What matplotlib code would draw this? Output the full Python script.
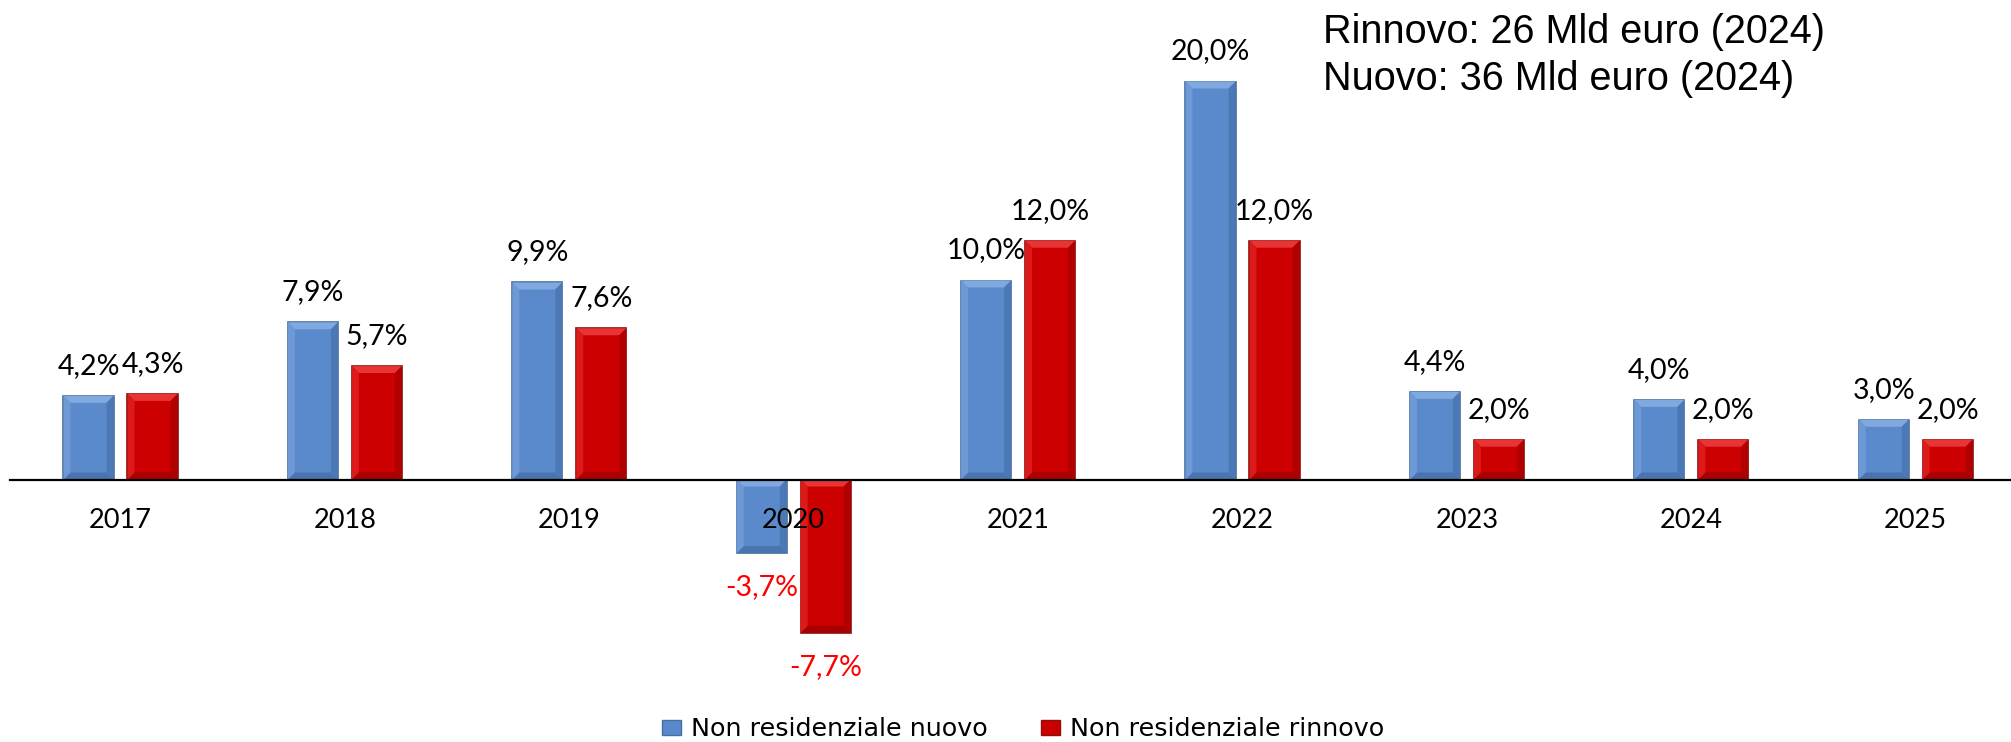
import matplotlib
matplotlib.use("Agg")
import matplotlib.pyplot as plt
from matplotlib.patches import Polygon, Patch

# data
years = ["2017", "2018", "2019", "2020", "2021", "2022", "2023", "2024", "2025"]
nuovo = [4.2, 7.9, 9.9, -3.7, 10.0, 20.0, 4.4, 4.0, 3.0]
rinnovo = [4.3, 5.7, 7.6, -7.7, 12.0, 12.0, 2.0, 2.0, 2.0]
series_names = ["Non residenziale nuovo", "Non residenziale rinnovo"]
note_lines = ["Rinnovo: 26 Mld euro (2024)", "Nuovo: 36 Mld euro (2024)"]

W, H = 2011, 742
fig = plt.figure(figsize=(W / 100, H / 100), dpi=100)
ax = fig.add_axes([0, 0, 1, 1])

# scales: 224.4 px per category, 19.9 px per percent point
px_x = 224.4
px_y = 19.9
x0 = 120.5
zero_y = 479.5
ax.set_xlim(-x0 / px_x, (W - x0) / px_x)
ax.set_ylim(-(H - zero_y) / px_y, zero_y / px_y)
ax.axis("off")

blue = "#5a8acb"
red = "#cc0000"
off = 0.1426
width = 0.223

bars_n = ax.bar([i - off for i in range(len(years))], nuovo, width, color=blue,
                edgecolor="#4a6e9e", linewidth=1.2, zorder=2)
bars_r = ax.bar([i + off for i in range(len(years))], rinnovo, width, color=red,
                edgecolor="#8a1010", linewidth=1.2, zorder=2)


def bevel(rect, light, dark, top_c, bot_c):
    # fake the excel bevel look with four trapezoids
    x, w = rect.get_x(), rect.get_width()
    y0 = rect.get_y()
    h = rect.get_height()
    y1 = y0 + h
    lo, hi = min(y0, y1), max(y0, y1)
    bx = 7 / px_x
    by = min(7 / px_y, (hi - lo) / 2)
    xi0, xi1 = x + bx, x + w - bx
    yi0, yi1 = lo + by, hi - by
    polys = [
        ([(x, hi), (x + w, hi), (xi1, yi1), (xi0, yi1)], top_c),
        ([(x, lo), (x + w, lo), (xi1, yi0), (xi0, yi0)], bot_c),
        ([(x, lo), (x, hi), (xi0, yi1), (xi0, yi0)], light),
        ([(x + w, lo), (x + w, hi), (xi1, yi1), (xi1, yi0)], dark),
    ]
    for pts, c in polys:
        ax.add_patch(Polygon(pts, closed=True, facecolor=c, edgecolor="none", zorder=2.5))


for b in bars_n:
    bevel(b, "#6d9ad6", "#4c79b6", "#7fa9df", "#4a74ad")
for b in bars_r:
    bevel(b, "#dc1a1a", "#b00000", "#e83434", "#a80000")

# zero line
ax.plot([-(x0 - 10) / px_x, (W - x0) / px_x], [0, 0], color="black", lw=1.6, zorder=4)

calibri = "Lato"

# value labels
for bars, vals in [(bars_n, nuovo), (bars_r, rinnovo)]:
    for b, v in zip(bars, vals):
        cx = b.get_x() + b.get_width() / 2
        txt = f"{v:.1f}".replace(".", ",") + "%"
        if v >= 0:
            ax.annotate(txt, (cx, v), xytext=(0, 30), textcoords="offset pixels",
                        ha="center", va="center", fontsize=20.5, family=calibri,
                        color="black", zorder=5)
        else:
            ax.annotate(txt, (cx, v), xytext=(0, -34), textcoords="offset pixels",
                        ha="center", va="center", fontsize=20.5, family=calibri,
                        color="#ff0000", zorder=5)

# year labels
for i, y in enumerate(years):
    ax.annotate(y, (i, 0), xytext=(0, -40.5), textcoords="offset pixels",
                ha="center", va="center", fontsize=19.5, family=calibri, zorder=5)

# note top right
fig.text(1323 / W, 1 - 42.7 / H, note_lines[0], fontsize=28.5, family="Liberation Sans",
         va="baseline", ha="left")
fig.text(1323 / W, 1 - 90 / H, note_lines[1], fontsize=28.5, family="Liberation Sans",
         va="baseline", ha="left")

# legend
handles = [Patch(facecolor=blue, edgecolor="#4a6e9e"), Patch(facecolor=red, edgecolor="#8a1010")]
fs = 18.3
em = fs * 100 / 72
fig.legend(handles, series_names, loc="center", bbox_to_anchor=(1023 / W, 1 - 729.5 / H),
           ncol=2, frameon=False, prop={"family": "DejaVu Sans", "size": fs},
           handlelength=18.7 / em, handleheight=14 / em, handletextpad=10 / em,
           columnspacing=54 / em, borderpad=0, borderaxespad=0)

fig.savefig("out.png", dpi=100)
